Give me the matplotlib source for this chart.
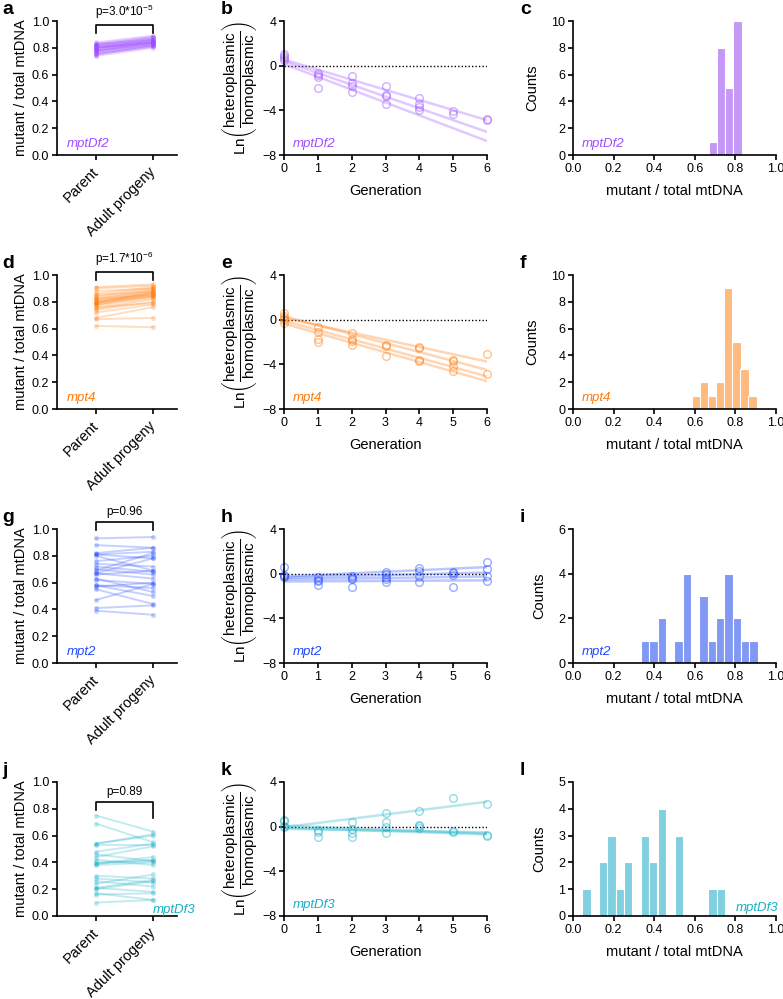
import numpy as np
import matplotlib
matplotlib.use("Agg")
import matplotlib.pyplot as plt

plt.rcParams['font.family'] = ['Liberation Sans', 'DejaVu Sans']
plt.rcParams['mathtext.fontset'] = 'custom'
plt.rcParams['mathtext.rm'] = 'Liberation Sans'
plt.rcParams['mathtext.it'] = 'Liberation Sans:italic'
plt.rcParams['mathtext.bf'] = 'Liberation Sans:bold'
plt.rcParams['axes.linewidth'] = 1.2
plt.rcParams['xtick.major.width'] = 1.2
plt.rcParams['ytick.major.width'] = 1.2
plt.rcParams['xtick.major.size'] = 3.5
plt.rcParams['ytick.major.size'] = 3.5
plt.rcParams['xtick.labelsize'] = 9
plt.rcParams['ytick.labelsize'] = 9

# ---------------- данные ----------------
genes = ['mptDf2', 'mpt4', 'mpt2', 'mptDf3']
text_colors = ['#9E4DFF', '#FF7A0A', '#1F47FF', '#17AFC7']
bar_colors = ['#C597F7', '#FDBB80', '#8199F5', '#80D0DF']
p_texts = [r'p=3.0*10$^{-5}$', r'p=1.7*10$^{-6}$', 'p=0.96', 'p=0.89']
bracket_y = [0.97, 1.025, 1.05, 0.85]

pair_labels = ['Parent', 'Adult progeny']

a_parent = [0.74, 0.75, 0.75, 0.76, 0.77, 0.77, 0.78, 0.78, 0.79, 0.79, 0.80, 0.80,
            0.80, 0.81, 0.81, 0.82, 0.82, 0.82, 0.83, 0.83, 0.78, 0.76, 0.80, 0.84]
a_progeny = [0.80, 0.81, 0.82, 0.81, 0.83, 0.84, 0.82, 0.85, 0.84, 0.86, 0.85, 0.83,
             0.87, 0.86, 0.84, 0.88, 0.85, 0.87, 0.86, 0.88, 0.83, 0.82, 0.84, 0.89]

d_parent = [0.62, 0.67, 0.68, 0.72, 0.74, 0.75, 0.76, 0.77, 0.78, 0.78, 0.79, 0.79,
            0.80, 0.80, 0.81, 0.82, 0.82, 0.83, 0.84, 0.85, 0.86, 0.88, 0.90, 0.91]
d_progeny = [0.61, 0.68, 0.76, 0.78, 0.80, 0.82, 0.79, 0.83, 0.85, 0.84, 0.86, 0.87,
             0.84, 0.88, 0.86, 0.85, 0.89, 0.87, 0.90, 0.88, 0.91, 0.90, 0.92, 0.93]

g_parent = [0.39, 0.41, 0.47, 0.55, 0.57, 0.58, 0.58, 0.63, 0.66, 0.67, 0.67, 0.70,
            0.72, 0.74, 0.76, 0.80, 0.81, 0.81, 0.82, 0.88, 0.93, 0.62, 0.69]
g_progeny = [0.36, 0.43, 0.59, 0.44, 0.60, 0.56, 0.50, 0.53, 0.69, 0.78, 0.63, 0.66,
             0.68, 0.72, 0.80, 0.69, 0.83, 0.78, 0.86, 0.86, 0.94, 0.59, 0.82]

j_parent = [0.10, 0.16, 0.17, 0.20, 0.21, 0.24, 0.26, 0.28, 0.30, 0.38, 0.39, 0.40,
            0.42, 0.44, 0.46, 0.48, 0.53, 0.54, 0.54, 0.69, 0.75, 0.39, 0.21]
j_progeny = [0.12, 0.17, 0.12, 0.26, 0.27, 0.31, 0.22, 0.25, 0.28, 0.40, 0.42, 0.41,
             0.38, 0.52, 0.41, 0.54, 0.53, 0.61, 0.60, 0.55, 0.63, 0.44, 0.18]

# Ln(гетероплазмия/гомоплазмия) по поколениям
b_gen = [0, 0, 0, 0, 1, 1, 1, 1, 2, 2, 2, 2, 3, 3, 3, 3, 4, 4, 4, 4, 5, 5, 6, 6]
b_val = [1.0, 0.85, 0.7, 0.5, -0.66, -0.84, -1.0, -2.0, -0.96, -1.55, -1.8, -2.35,
         -1.8, -2.6, -2.7, -3.4, -2.92, -3.4, -3.7, -4.0, -4.05, -4.3, -4.8, -4.88]
b_icpt = [0.55, 0.4, 0.15]
b_slope = [-0.905, -1.055, -1.15]

e_gen = [0, 0, 0, 0, 0, 1, 1, 1, 1, 2, 2, 2, 2, 3, 3, 3, 4, 4, 4, 4, 5, 5, 5, 5, 6, 6]
e_val = [0.56, 0.33, 0.12, -0.03, -0.33, -0.62, -1.1, -1.69, -1.99, -1.21, -1.69, -1.9,
         -2.28, -2.25, -2.4, -3.23, -2.43, -2.52, -3.61, -3.67, -3.61, -3.7, -4.18, -4.62,
         -3.11, -4.83]
e_icpt = [0.15, 0.3, -0.1, -0.35]
e_slope = [-0.65, -0.8, -0.83, -0.86]

h_gen = [0, 0, 0, 0, 1, 1, 1, 1, 2, 2, 2, 2, 3, 3, 3, 3, 3, 4, 4, 4, 4, 5, 5, 5, 5, 6, 6, 6, 6]
h_val = [0.56, -0.13, -0.22, -0.33, -0.33, -0.57, -0.69, -1.02, -0.22, -0.36, -0.51, -1.17,
         0.17, -0.04, -0.28, -0.51, -0.78, 0.47, 0.26, -0.22, -0.75, 0.17, 0.02, -0.13, -1.23,
         1.06, 0.38, -0.22, -0.69]
h_icpt = [-0.25, -0.35, -0.5, -0.7]
h_slope = [0.14, 0.075, 0.04, 0.017]

k_gen = [0, 0, 0, 0, 1, 1, 1, 2, 2, 2, 2, 3, 3, 3, 3, 4, 4, 4, 4, 5, 5, 5, 6, 6, 6]
k_val = [0.61, 0.53, 0.08, -0.07, -0.31, -0.51, -0.93, 0.44, -0.22, -0.57, -0.93,
         1.18, 0.38, -0.07, -0.57, 1.36, 0.14, 0.02, -0.16, 2.6, -0.37, -0.51, 2.07, -0.72, -0.81]
k_icpt = [-0.05, 0.1, -0.1, -0.2]
k_slope = [0.38, -0.12, -0.1, -0.05]

# гистограммы: центры бинов и частоты
c_centers = [0.69, 0.73, 0.77, 0.81]
c_counts = [1, 8, 5, 10]
f_centers = [0.605, 0.645, 0.685, 0.725, 0.765, 0.805, 0.845, 0.885]
f_counts = [1, 2, 1, 2, 9, 5, 3, 1]
i_centers = [0.355, 0.396, 0.437, 0.52, 0.56, 0.643, 0.684, 0.725, 0.766, 0.807, 0.848, 0.889]
i_counts = [1, 1, 2, 1, 4, 3, 1, 2, 4, 2, 1, 1]
l_centers = [0.066, 0.148, 0.189, 0.23, 0.272, 0.354, 0.395, 0.437, 0.522, 0.687, 0.728]
l_counts = [1, 2, 3, 1, 2, 3, 2, 4, 3, 1, 1]
hist_ymax = [10, 10, 6, 5]
hist_ystep = [2, 2, 2, 1]

pairs = [(a_parent, a_progeny), (d_parent, d_progeny), (g_parent, g_progeny), (j_parent, j_progeny)]
lns = [(b_gen, b_val, b_icpt, b_slope), (e_gen, e_val, e_icpt, e_slope),
       (h_gen, h_val, h_icpt, h_slope), (k_gen, k_val, k_icpt, k_slope)]
hists = [(c_centers, c_counts), (f_centers, f_counts), (i_centers, i_counts), (l_centers, l_counts)]
letters = ['abc', 'def', 'ghi', 'jkl']

# ---------------- раскладка ----------------
W, H = 783, 999
fig = plt.figure(figsize=(W / 100, H / 100), dpi=100)

row_tops = [21, 275, 529, 782]
ax_h = 134
col_left = [57, 284, 573]
col_w = [120, 203, 203]
letter_x = [2, 221, 520]


def rect(col, row):
    top = row_tops[row]
    return [col_left[col] / W, 1 - (top + ax_h) / H, col_w[col] / W, ax_h / H]


def style(ax):
    for s in ['top', 'right']:
        ax.spines[s].set_visible(False)
    ax.tick_params(direction='out', pad=2)


for r in range(4):
    col = text_colors[r]
    gene = genes[r]

    # --- парные точки ---
    ax = fig.add_axes(rect(0, r))
    style(ax)
    parent, progeny = pairs[r]
    for p0, p1 in zip(parent, progeny):
        ax.plot([0, 1], [p0, p1], '-o', color=col, alpha=0.25, lw=1.4, ms=3.6,
                mew=0, clip_on=False)
    ax.set_xlim(-0.684, 1.421)
    ax.set_ylim(0, 1.0)
    ax.set_yticks(np.arange(0, 1.01, 0.2))
    ax.set_yticklabels([f'{v:.1f}' for v in np.arange(0, 1.01, 0.2)])
    ax.set_xticks([0, 1])
    ax.set_xticklabels(pair_labels, rotation=45, ha='right', va='center',
                       rotation_mode='anchor', fontsize=10.5)
    ax.tick_params(axis='x', pad=7)
    ax.set_ylabel('mutant / total mtDNA', fontsize=10.5, labelpad=3)
    y = bracket_y[r]
    ax.plot([0, 0, 1, 1], [y - 0.06, y, y, y - (0.12 if r == 3 else 0.06)],
            color='black', lw=1.2, clip_on=False)
    ax.text(0.5, y + 0.03, p_texts[r], ha='center', va='bottom', fontsize=8.5)
    if r == 3:
        ax.text(1.15, 0.02, gene, transform=ax.transAxes, ha='right', va='baseline',
                color=col, style='italic', fontsize=9.5)
    else:
        ax.text(0.08, 0.06, gene, transform=ax.transAxes, ha='left', va='baseline',
                color=col, style='italic', fontsize=9.5)

    # --- Ln по поколениям ---
    ax = fig.add_axes(rect(1, r))
    style(ax)
    gen, val, icpt, slope = lns[r]
    ax.axhline(0, color='black', lw=1.0, ls=(0, (1, 1.5)))
    xs = np.array([0, 6])
    for b0, b1 in zip(icpt, slope):
        ax.plot(xs, b0 + b1 * xs, color=col, alpha=0.3, lw=1.8)
    ax.plot(gen, val, 'o', mfc='none', mec=col, alpha=0.45, ms=5.5, mew=1.0, clip_on=False)
    ax.set_xlim(0, 6)
    ax.set_ylim(-8, 4)
    ax.set_xticks(range(7))
    ax.set_yticks([-8, -4, 0, 4])
    ax.set_xlabel('Generation', fontsize=10.5, labelpad=7)
    ax.set_ylabel(r'Ln$\left(\dfrac{\mathrm{heteroplasmic}}{\mathrm{homoplasmic}}\right)$',
                  fontsize=11, labelpad=2)
    ax.text(0.045, 0.06, gene, transform=ax.transAxes, ha='left', va='baseline',
            color=col, style='italic', fontsize=9.5)

    # --- гистограмма ---
    ax = fig.add_axes(rect(2, r))
    style(ax)
    centers, counts = hists[r]
    ax.bar(centers, counts, width=0.041, color=bar_colors[r], edgecolor='white', lw=0.8)
    ax.set_xlim(0, 1)
    ax.set_ylim(0, hist_ymax[r])
    ax.set_xticks(np.arange(0, 1.01, 0.2))
    ax.set_xticklabels([f'{v:.1f}' for v in np.arange(0, 1.01, 0.2)])
    ax.set_yticks(np.arange(0, hist_ymax[r] + 0.1, hist_ystep[r]))
    ax.set_xlabel('mutant / total mtDNA', fontsize=10.5, labelpad=7)
    ax.set_ylabel('Counts', fontsize=10.5, labelpad=9)
    if r == 3:
        ax.text(1.01, 0.04, gene, transform=ax.transAxes, ha='right', va='baseline',
                color=col, style='italic', fontsize=9.5)
    else:
        ax.text(0.043, 0.06, gene, transform=ax.transAxes, ha='left', va='baseline',
                color=col, style='italic', fontsize=9.5)

    # --- буквы панелей ---
    for c in range(3):
        fig.text(letter_x[c] / W, 1 - (row_tops[r] - 7) / H, letters[r][c],
                 fontsize=14, fontweight='bold', ha='left', va='baseline')

fig.savefig('out.png', dpi=100)
